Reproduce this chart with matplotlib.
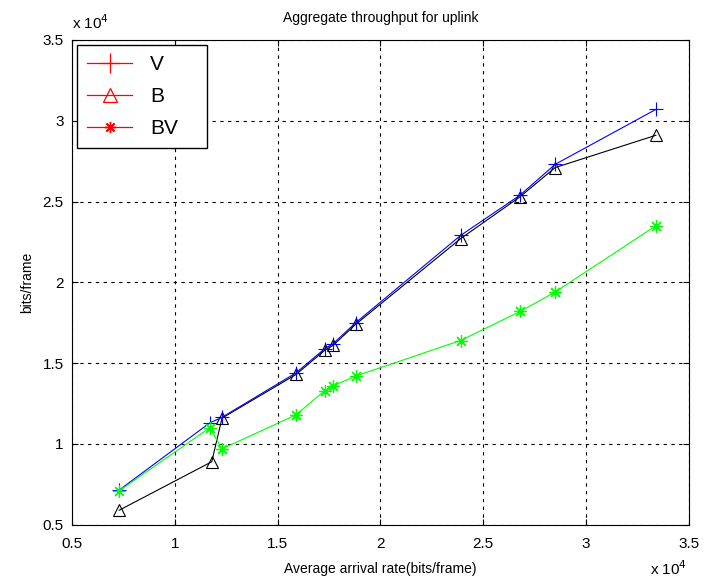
import matplotlib
matplotlib.use('Agg')
import matplotlib.pyplot as plt
from matplotlib.lines import Line2D
import numpy as np

plt.rcParams.update({
    'font.family': 'Liberation Sans',
    'font.size': 10,
    'xtick.direction': 'in',
    'ytick.direction': 'in',
    'xtick.top': True,
    'ytick.right': True,
})

# arrival rate (x 1e4 bits/frame)
arrival = [0.73, 1.17, 1.23, 1.59, 1.73, 1.77, 1.88, 2.39, 2.68, 2.85, 3.34]
arrival_b = [0.73, 1.18, 1.23, 1.59, 1.73, 1.77, 1.88, 2.39, 2.68, 2.85, 3.34]

# throughput (x 1e4 bits/frame)
thr_v = [0.715, 1.13, 1.165, 1.44, 1.59, 1.62, 1.75, 2.29, 2.54, 2.73, 3.07]
thr_b = [0.59, 0.89, 1.16, 1.43, 1.58, 1.61, 1.74, 2.27, 2.53, 2.71, 2.91]
thr_bv = [0.71, 1.10, 0.97, 1.18, 1.33, 1.36, 1.42, 1.64, 1.82, 1.94, 2.35]

ASTERISK = (8, 2, 0)  # 8-spoke asterisk marker
GREEN = '#00ff00'

fig = plt.figure(figsize=(7.05, 5.87), dpi=100)
ax = fig.add_axes([0.102, 0.106, 0.875, 0.826])

ax.plot(arrival_b, thr_b, color='black', lw=0.8, marker='^', ms=8,
        mfc='none', mec='black', mew=0.8)
ax.plot(arrival, thr_v, color='blue', lw=0.8, marker='+', ms=10, mew=0.8)
ax.plot(arrival, thr_bv, color=GREEN, lw=0.8, marker=ASTERISK, ms=9, mew=0.9)

ax.set_xlim(0.5, 3.5)
ax.set_ylim(0.5, 3.5)
ax.set_xticks(np.arange(0.5, 3.51, 0.5))
ax.set_yticks(np.arange(0.5, 3.51, 0.5))
ax.set_xticklabels(['0.5', '1', '1.5', '2', '2.5', '3', '3.5'])
ax.set_yticklabels(['0.5', '1', '1.5', '2', '2.5', '3', '3.5'])
ax.tick_params(labelsize=11, length=4, width=0.8, pad=6)
ax.tick_params(axis='x', pad=9)
ax.grid(True, color='black', linestyle=(0, (3, 4)), linewidth=0.8)
for s in ax.spines.values():
    s.set_linewidth(0.8)

ax.set_title('Aggregate throughput for uplink', fontsize=10, pad=13)
ax.set_xlabel('Average arrival rate(bits/frame)', fontsize=10, labelpad=8)
ax.set_ylabel('bits/frame', fontsize=10, labelpad=6)

ax.text(0.0, 1.016, r'x 10$^4$', transform=ax.transAxes, fontsize=11,
        ha='left', va='bottom')
ax.text(0.998, -0.072, r'x 10$^4$', transform=ax.transAxes, fontsize=11,
        ha='right', va='top')

handles = [
    Line2D([], [], color='red', lw=0.9, marker='+', ms=14, mew=0.9),
    Line2D([], [], color='red', lw=0.9, marker='^', ms=10, mfc='none', mew=0.9),
    Line2D([], [], color='red', lw=0.9, marker=ASTERISK, ms=8, mew=1.0),
]
leg = ax.legend(handles, ['V', 'B', 'BV'], loc='upper left',
                bbox_to_anchor=(0.008, 0.99 - 0.219, 0.211, 0.219),
                mode='expand', fontsize=15, frameon=True,
                fancybox=False, edgecolor='black', framealpha=1,
                handlelength=2.15, borderpad=0.5, labelspacing=0.62,
                handletextpad=0.85, borderaxespad=0)
leg.get_frame().set_linewidth(1.0)

fig.savefig('out.png', dpi=100)
